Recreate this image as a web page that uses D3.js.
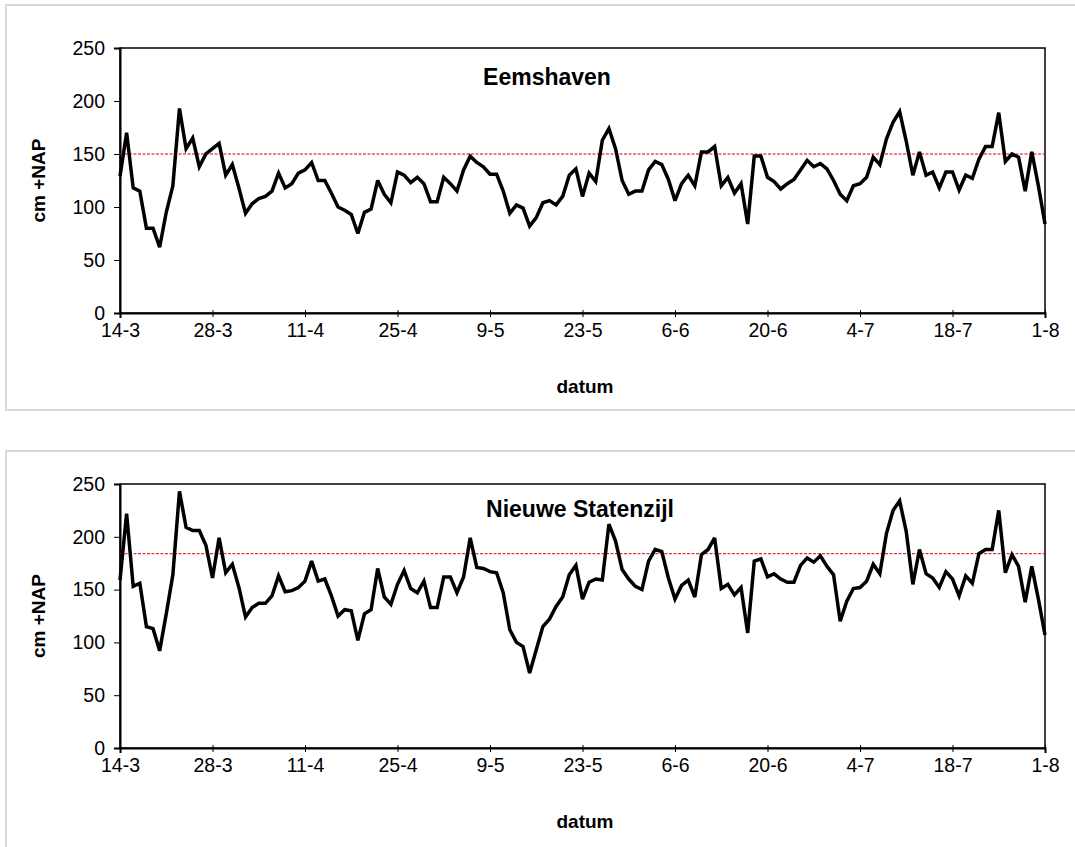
<!DOCTYPE html>
<html><head><meta charset="utf-8">
<script src="https://cdn.jsdelivr.net/npm/d3@7"></script>
<style>body{margin:0;background:#fff}svg{font-family:Arial,"Liberation Sans",sans-serif}</style>
</head><body><svg id="c" width="1075" height="847"></svg>
<script>
const tickLabels=["14-3","28-3","11-4","25-4","9-5","23-5","6-6","20-6","4-7","18-7","1-8"];
const yTicks=[0,50,100,150,200,250];
const eemshaven=[129,170,118,115,80,80,62,95,120,193,155,165,138,150,155,160,130,140,118,94,103,108,110,115,132,118,122,132,135,142,125,125,113,100,97,93,75,95,98,125,112,104,133,130,123,128,122,105,105,128,122,115,135,148,142,138,131,131,115,94,102,99,82,90,104,106,102,110,130,136,110,132,124,163,174,155,125,112,115,115,135,143,140,126,106,122,130,120,152,152,157,120,128,113,122,84,148,148,128,124,117,122,126,135,144,138,141,136,125,112,106,120,122,128,147,140,164,180,190,162,130,152,130,133,118,133,133,116,130,127,145,157,157,189,143,150,147,115,152,120,84];
const statenzijl=[159,222,153,156,115,113,92,127,164,243,209,206,206,192,161,199,166,174,152,124,133,137,137,144,163,148,149,152,158,177,158,160,144,125,131,130,102,127,131,170,143,136,155,168,151,147,158,133,133,162,162,147,162,199,171,170,167,166,147,112,100,96,71,93,115,122,134,143,164,173,141,157,160,159,212,196,169,160,153,150,177,188,186,161,141,154,159,143,183,188,199,151,155,145,152,109,177,179,162,165,160,157,157,173,180,176,182,172,164,120,139,151,152,158,174,165,203,225,234,205,155,188,165,161,152,167,160,144,163,156,184,188,188,225,166,183,172,138,172,141,107];
const refLevels=[150,184];
const titles=["Eemshaven","Nieuwe Statenzijl"];
const series=[eemshaven,statenzijl];

const svg=d3.select("#c");
const panels=[{top:5,bottom:410,pt:48,pb:313},{top:451,bottom:860,pt:484,pb:748}];
panels.forEach((p,k)=>{
  svg.append("rect").attr("x",6).attr("y",p.top).attr("width",1080).attr("height",p.bottom-p.top)
    .attr("fill","none").attr("stroke","#d9d9d9").attr("stroke-width",2);
  const x=d3.scaleLinear().domain([0,140]).range([120,1045]);
  const y=d3.scaleLinear().domain([0,250]).range([p.pb,p.pt]);
  const g=svg.append("g");
  g.append("rect").attr("x",120).attr("y",p.pt).attr("width",925).attr("height",p.pb-p.pt)
    .attr("fill","none").attr("stroke","#000").attr("stroke-width",1.5);
  const xa=d3.axisBottom(x).tickValues(d3.range(0,141,14)).tickFormat((d,i)=>tickLabels[i]).tickSize(5).tickPadding(5);
  const xg=g.append("g").attr("transform",`translate(0,${p.pb})`).call(xa);
  const ya=d3.axisLeft(y).tickValues(yTicks).tickSize(6).tickPadding(9);
  const yg=g.append("g").attr("transform","translate(120,0)").call(ya);
  [xg,yg].forEach(a=>{a.select(".domain").attr("stroke","#000").attr("stroke-width",2);
    a.selectAll("line").attr("stroke","#000");
    a.selectAll("text").attr("font-size",19.5).attr("fill","#000").attr("font-family","Arial,'Liberation Sans',sans-serif");});
  xg.selectAll(".tick line").attr("transform","translate(0,-3)").attr("y2",7);
  g.append("line").attr("x1",x(0)).attr("x2",x(140)).attr("y1",y(refLevels[k])).attr("y2",y(refLevels[k]))
    .attr("stroke","#e00000").attr("stroke-width",1).attr("stroke-dasharray","3,1.5");
  g.append("path").datum(series[k]).attr("fill","none").attr("stroke","#000").attr("stroke-width",3.5)
    .attr("stroke-linejoin","miter").attr("stroke-miterlimit",3)
    .attr("d",d3.line().x((d,i)=>x(i)).y(d=>y(d)));
  g.append("text").attr("x",k==0?547:580).attr("y",k==0?85:517).attr("text-anchor","middle")
    .attr("font-size",23).attr("font-weight","bold").text(titles[k]);
  g.append("text").attr("x",585).attr("y",p.pb+80).attr("text-anchor","middle")
    .attr("font-size",19).attr("font-weight","bold").text("datum");
  g.append("text").attr("transform",`translate(45,${(p.pt+p.pb)/2}) rotate(-90)`).attr("text-anchor","middle")
    .attr("font-size",19).attr("font-weight","bold").text("cm +NAP");
});
</script></body></html>
